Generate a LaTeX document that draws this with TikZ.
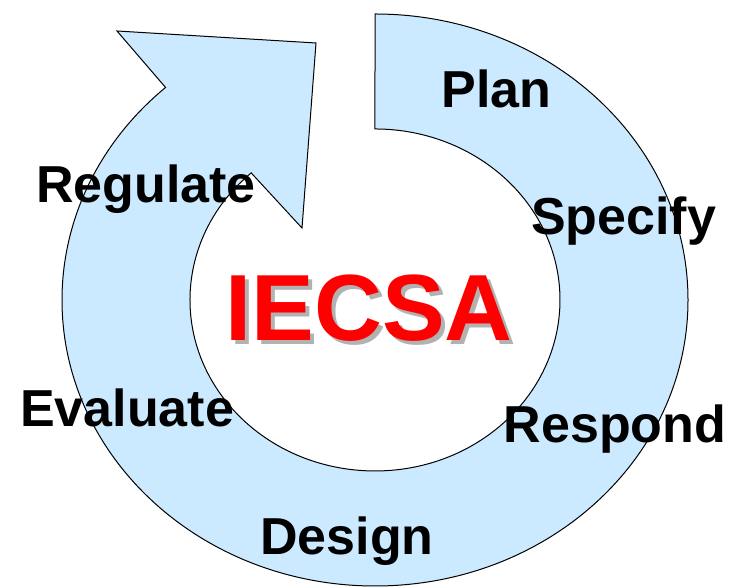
\documentclass[tikz,border=0pt]{standalone}
\usepackage{fontspec}
\setmainfont{Liberation Sans}
\definecolor{ringblue}{RGB}{204,234,255}
\definecolor{shadowgray}{RGB}{178,178,178}
\definecolor{titlered}{RGB}{255,0,0}
\begin{document}
\begin{tikzpicture}[x=1bp,y=1bp,
  lbl/.style={anchor=base,inner sep=0pt,font=\fontsize{52bp}{52bp}\selectfont\bfseries},
  ttl/.style={anchor=base,inner sep=0pt,font=\fontsize{94bp}{94bp}\selectfont\bfseries}]
\useasboundingbox (0,0) rectangle (731,587);
% ring arrow
\draw[fill=ringblue,line width=1bp,line join=miter]
  (375,573) arc[start angle=90,end angle=-228,x radius=313,y radius=286]
  -- (117,556) -- (316,544) -- (302,359) -- (251.2,414.1)
  arc[start angle=132,end angle=450,x radius=185,y radius=171]
  -- cycle;
% labels
\node[lbl] (plan) at (496.5,479) {Plan};
\node[lbl] (specify) at (623.5,352) {Specify};
\node[lbl] (respond) at (615,144) {Respond};
\node[lbl] (design) at (347,32) {Design};
\node[lbl] (evaluate) at (127,160) {Evaluate};
\node[lbl] (regulate) at (146,384) {Regulate};
% title with shadow
\node[ttl,text=shadowgray] (titleshadow) at (373,242) {IECSA};
\node[ttl,text=titlered] (title) at (369,246) {IECSA};
\end{tikzpicture}
\end{document}
